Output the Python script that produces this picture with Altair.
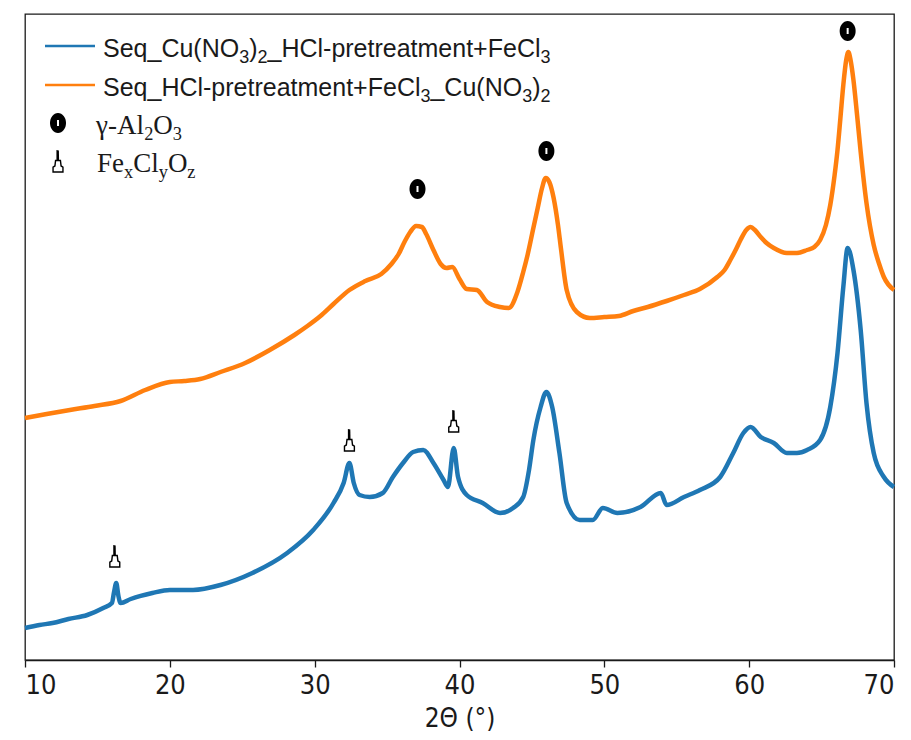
import altair as alt
import pandas as pd

# ---------------- data ----------------
series_names = ["Seq_Cu(NO3)2_HCl-pretreatment+FeCl3",
                "Seq_HCl-pretreatment+FeCl3_Cu(NO3)2"]
series_colors = ["#1f77b4", "#ff7f0e"]

blue_2theta = [10.0, 11.0, 11.9, 13.0, 14.3, 15.4, 16.0, 16.15, 16.3, 16.45, 16.6, 17.3,
               18.8, 20.0, 21.6, 23.5, 25.7, 28.1, 29.9, 31.3, 32.0, 32.4, 32.7, 33.1,
               33.8, 34.7, 35.4, 36.1, 36.8, 37.5, 38.2, 38.9, 39.2, 39.6, 39.9, 40.5,
               41.6, 42.8, 43.7, 44.4, 44.8, 45.1, 45.6, 46.0, 46.4, 46.9, 47.4, 48.3,
               49.2, 49.9, 50.9, 52.5, 53.9, 54.3, 55.5, 56.6, 58.0, 58.9, 59.6, 60.1,
               60.8, 61.7, 62.6, 63.3, 64.0, 64.9, 65.6, 66.1, 66.5, 66.8, 67.2, 67.7,
               68.1, 68.6, 69.3, 70.0]
blue_int = [32, 35, 37, 41, 45, 52, 57, 68, 77, 64, 57, 61,
            67, 70, 70, 75, 87, 107, 130, 157, 177, 197, 177, 165,
            163, 167, 183, 197, 208, 210, 197, 180, 173, 212, 183, 165,
            157, 147, 152, 163, 190, 220, 253, 268, 253, 207, 157, 140,
            140, 152, 147, 153, 167, 155, 163, 170, 183, 207, 227, 233,
            223, 217, 207, 207, 210, 220, 253, 307, 373, 412, 390, 330,
            257, 207, 183, 173]

orange_2theta = [10.0, 11.5, 13.1, 14.8, 16.6, 18.3, 20.0, 21.0, 22.1, 23.5, 25.2, 26.9,
                 28.6, 29.5, 30.4, 31.3, 32.4, 33.5, 34.6, 35.3, 35.8, 36.2, 36.6, 37.0,
                 37.4, 37.7, 38.2, 38.7, 39.1, 39.5, 40.0, 40.5, 41.2, 41.9, 42.8, 43.4,
                 44.0, 44.4, 44.7, 45.1, 45.4, 45.7, 45.95, 46.2, 46.5, 46.8, 47.0, 47.4,
                 48.1, 49.0, 50.0, 51.0, 52.0, 53.0, 54.3, 55.5, 56.6, 57.8, 58.3, 58.7,
                 59.1, 59.4, 59.8, 60.1, 60.4, 60.8, 61.2, 61.7, 62.6, 63.3, 64.0, 64.5,
                 64.9, 65.3, 65.6, 65.9, 66.1, 66.3, 66.5, 66.7, 66.85, 67.0, 67.2, 67.45,
                 67.7, 68.1, 68.6, 69.0, 69.3, 70.0]
orange_int = [242, 246, 250, 254, 259, 270, 278, 279, 281, 288, 297, 310,
              325, 334, 344, 356, 370, 379, 386, 396, 406, 418, 428, 434,
              433, 426, 410, 396, 392, 393, 381, 371, 370, 358, 353, 352,
              368, 388, 405, 432, 452, 472, 482, 478, 462, 435, 412, 370,
              348, 342, 343, 344, 349, 353, 359, 365, 371, 383, 390, 400,
              411, 420, 430, 433, 430, 423, 417, 412, 407, 407, 410, 413,
              420, 435, 455, 485, 510, 542, 575, 600, 608, 600, 580, 545,
              508, 457, 415, 395, 383, 370]

# phase markers (peak annotations)
al2o3_2theta = [37.1, 46.0, 66.8]
al2o3_int = [471, 509, 629]
fexclyoz_2theta = [16.2, 32.4, 39.6]
fexclyoz_int = [104, 220, 239]

x_ticks = [10, 20, 30, 40, 50, 60, 70]

# ---------------- layout ----------------
W, H = 869, 646
PAD_L, PAD_T = 25, 14
YDOM = [0, 646]
AXIS_FONT = "Liberation Sans Narrow, DejaVu Sans Condensed, Liberation Sans"

lines_df = pd.concat([
    pd.DataFrame({"two_theta": blue_2theta, "intensity": blue_int, "series": series_names[0], "order": range(len(blue_2theta))}),
    pd.DataFrame({"two_theta": orange_2theta, "intensity": orange_int, "series": series_names[1], "order": range(len(orange_2theta))}),
])

xs = alt.Scale(domain=[10, 70], nice=False, zero=False)
ys = alt.Scale(domain=YDOM, nice=False, zero=False)

X = alt.X("two_theta:Q", scale=xs,
          axis=alt.Axis(values=x_ticks, title="2Θ (°)", grid=False, format="d"))
Y = alt.Y("intensity:Q", scale=ys, axis=None)

lines = alt.Chart(lines_df).mark_line(strokeWidth=4.5, interpolate="monotone").encode(
    x=X, y=Y,
    color=alt.Color("series:N", scale=alt.Scale(domain=series_names, range=series_colors), legend=None),
    detail="series:N", order="order:Q",
)

ELLIPSE = "M0,-1 A0.8,1 0 1,1 0,1 A0.8,1 0 1,1 0,-1 Z"
DASH = "M-0.1,-0.3 L0.1,-0.3 L0.1,0.3 L-0.1,0.3 Z"
BELL_BODY = "M-0.22,-0.05 L0.22,-0.05 L0.28,0.45 L0.45,0.55 L0.45,1 L-0.45,1 L-0.45,0.55 L-0.28,0.45 Z"
BELL_TIP = "M-0.14,-1 L0.08,-0.95 L0.1,-0.05 L-0.14,-0.05 Z"
CIRCLE_SIZE = 400
BELL_SIZE = 484

al_df = pd.DataFrame({"two_theta": al2o3_2theta, "intensity": al2o3_int})
fe_df = pd.DataFrame({"two_theta": fexclyoz_2theta, "intensity": fexclyoz_int})

al_marks = alt.Chart(al_df).mark_point(shape=ELLIPSE, size=CIRCLE_SIZE, filled=True, color="black", opacity=1).encode(x=X, y=Y)
al_dash = alt.Chart(al_df).mark_point(shape=DASH, size=CIRCLE_SIZE, filled=True, color="white", opacity=1).encode(x=X, y=Y)
fe_body = alt.Chart(fe_df).mark_point(shape=BELL_BODY, size=BELL_SIZE, filled=True, fill="white", stroke="black",
                                      strokeWidth=1.4, opacity=1).encode(x=X, y=Y)
fe_tip = alt.Chart(fe_df).mark_point(shape=BELL_TIP, size=BELL_SIZE, filled=True, color="black", opacity=1).encode(x=X, y=Y)

# ---------------- legend (manual, with true subscripts) ----------------
ARIAL = {'S': 667, 'e': 556, 'q': 556, '_': 556, 'C': 722, 'u': 556, '(': 333, 'N': 722, 'O': 778,
         ')': 333, 'H': 722, 'l': 222, '-': 333, 'p': 556, 'r': 333, 't': 278, 'a': 556, 'm': 833,
         'n': 556, '+': 584, 'F': 611, '2': 556, '3': 556}
TIMES = {'γ': 450, '-': 333, 'A': 722, 'l': 278, 'O': 722, 'F': 556, 'e': 444, 'C': 667,
         'x': 500, 'y': 500, 'z': 444, '2': 500, '3': 500}


def segments(parts, x0, base, size, widths, sub_scale, sub_dy):
    out = []
    x = x0
    for txt, sub in parts:
        fs = size * sub_scale if sub else size
        out.append({"text": txt, "px": x, "py": base + (sub_dy if sub else 0), "fs": fs})
        x += sum(widths.get(c, 556) for c in txt) / 1000.0 * fs
    return out


leg1 = [("Seq_Cu(NO", 0), ("3", 1), (")", 0), ("2", 1), ("_HCl-pretreatment+FeCl", 0), ("3", 1)]
leg2 = [("Seq_HCl-pretreatment+FeCl", 0), ("3", 1), ("_Cu(NO", 0), ("3", 1), (")", 0), ("2", 1)]
leg3 = [("γ-Al", 0), ("2", 1), ("O", 0), ("3", 1)]
leg4 = [("Fe", 0), ("x", 1), ("Cl", 0), ("y", 1), ("O", 0), ("z", 1)]

LX = 103 - PAD_L
sans_rows = segments(leg1, LX, 57 - PAD_T, 25, ARIAL, 0.72, 6) + segments(leg2, LX, 96 - PAD_T, 25, ARIAL, 0.72, 6)
serif_rows = segments(leg3, 96 - PAD_L, 134 - PAD_T, 27, TIMES, 0.68, 6) + segments(leg4, 97 - PAD_L, 172 - PAD_T, 27, TIMES, 0.68, 6)

sans_text = alt.Chart(pd.DataFrame(sans_rows)).mark_text(
    align="left", baseline="alphabetic", font="Liberation Sans", color="#1a1a1a").encode(
    x=alt.X("px:Q", scale=None), y=alt.Y("py:Q", scale=None),
    size=alt.Size("fs:Q", scale=None, legend=None), text="text:N")
serif_text = alt.Chart(pd.DataFrame(serif_rows)).mark_text(
    align="left", baseline="alphabetic", font="Liberation Serif", color="#1a1a1a").encode(
    x=alt.X("px:Q", scale=None), y=alt.Y("py:Q", scale=None),
    size=alt.Size("fs:Q", scale=None, legend=None), text="text:N")

one = pd.DataFrame({"k": [0]})
leg_lines = [
    alt.Chart(one).mark_rule(strokeWidth=2.5, color=series_colors[i]).encode(
        x=alt.value(45 - PAD_L), x2=alt.value(95 - PAD_L), y=alt.value(yy - PAD_T))
    for i, yy in enumerate([46, 85])
]
LMX, LCY, LTY = 58 - PAD_L, 123 - PAD_T, 161 - PAD_T
leg_al = alt.Chart(one).mark_point(shape=ELLIPSE, size=CIRCLE_SIZE, filled=True, color="black", opacity=1).encode(
    x=alt.value(LMX), y=alt.value(LCY))
leg_al_dash = alt.Chart(one).mark_point(shape=DASH, size=CIRCLE_SIZE, filled=True, color="white", opacity=1).encode(
    x=alt.value(LMX), y=alt.value(LCY))
leg_fe_body = alt.Chart(one).mark_point(shape=BELL_BODY, size=BELL_SIZE, filled=True, fill="white", stroke="black",
                                        strokeWidth=1.4, opacity=1).encode(x=alt.value(LMX), y=alt.value(LTY))
leg_fe_tip = alt.Chart(one).mark_point(shape=BELL_TIP, size=BELL_SIZE, filled=True, color="black", opacity=1).encode(
    x=alt.value(LMX), y=alt.value(LTY))

chart = alt.layer(
    lines, al_marks, al_dash, fe_body, fe_tip,
    *leg_lines, leg_al, leg_al_dash, leg_fe_body, leg_fe_tip, sans_text, serif_text
).properties(
    width=W, height=H,
    autosize=alt.AutoSizeParams(type="none"),
    padding={"left": PAD_L, "top": PAD_T, "right": 911 - PAD_L - W, "bottom": 740 - PAD_T - H},
    background="white",
).configure_view(
    stroke="#1a1a1a", strokeWidth=1.3
).configure_axis(
    domainColor="#1a1a1a", domainWidth=1.3, tickColor="#1a1a1a", tickWidth=1.3, tickSize=7,
    labelFont=AXIS_FONT, labelFontSize=27, labelColor="#1a1a1a", labelPadding=5,
    titleFont=AXIS_FONT, titleFontSize=26, titleColor="#1a1a1a", titleFontWeight="normal",
    titlePadding=7,
)

chart.save("out.html", embed_options={"renderer": "svg", "actions": False})
